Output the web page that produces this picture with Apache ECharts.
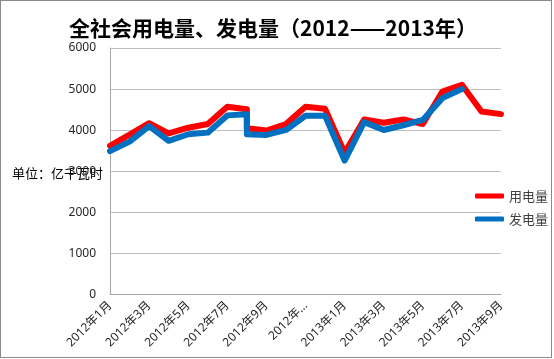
<!DOCTYPE html>
<html><head><meta charset="utf-8">
<script src="https://cdn.jsdelivr.net/npm/echarts@6/dist/echarts.min.js"></script>
<style>
html,body{margin:0;padding:0;background:#fff}
#c{width:554px;height:359px;position:absolute;left:0;top:0}
#frame{position:absolute;left:0;top:0;width:552px;height:358px;box-sizing:border-box;border:1.5px solid #8a8a8a;pointer-events:none}
</style></head><body><div id="c"></div><div id="frame"></div>
<script>
// Categories (months)
const months = ['2012年1月','2012年2月','2012年3月','2012年4月','2012年5月','2012年6月','2012年7月','2012年8月','2012年9月','2012年10月','2012年11月','2012年12月',
                '2013年1月','2013年2月','2013年3月','2013年4月','2013年5月','2013年6月','2013年7月','2013年8月','2013年9月'];
// 用电量 (亿千瓦时)
const useValues = [3620, 3890, 4170, 3920, 4060, 4150, 4570, 4510, 3990, 4150, 4570, 4520, 3450, 4260, 4180, 4260, 4150, 4940, 5105, 4455, 4390];
// 发电量 (亿千瓦时)
const genValues = [3490, 3720, 4100, 3740, 3900, 3940, 4360, 4390, 3885, 4005, 4350, 4350, 3260, 4195, 4005, 4120, 4250, 4780, 5000];
// second reading plotted at the same month (vertical drop in the source chart)
const dropMonth = '2012年8月';
const useDrop = 4045;
const genDrop = 3900;
// Tick labels as displayed (truncated one)
const shortLabels = {'2012年11月': '2012年…'};
const yTicks = [0, 1000, 2000, 3000, 4000, 5000, 6000];

function buildPairs(values, drop) {
  const out = [];
  values.forEach((v, i) => {
    out.push([months[i], v]);
    if (months[i] === dropMonth) out.push([months[i], drop]);
  });
  return out;
}

const chart = echarts.init(document.getElementById('c'), null, {renderer: 'canvas'});
const font = '"Noto Sans", "Noto Sans CJK SC", sans-serif';
chart.setOption({
  animation: false,
  backgroundColor: '#ffffff',
  title: {
    text: '全社会用电量、发电量（2012——2013年）',
    left: 273, textAlign: 'center', top: 18, padding: 0,
    textStyle: {fontSize: 21, fontWeight: 'bold', color: '#000', fontFamily: '"Noto Sans CJK SC", sans-serif'}
  },
  graphic: [{
    type: 'text', left: 12, top: 167,
    style: {text: '单位：亿千瓦时', fontSize: 13, fill: '#000', fontFamily: '"Noto Sans CJK SC", sans-serif'}
  }],
  legend: {
    orient: 'vertical', left: 470, top: 183, itemWidth: 29, itemHeight: 5, itemGap: 7,
    icon: 'roundRect',
    data: ['用电量', '发电量'],
    textStyle: {fontSize: 13, lineHeight: 16, color: '#404040', fontFamily: '"Noto Sans CJK SC", sans-serif'}
  },
  grid: {left: 110, right: 53, top: 48, bottom: 64.5, containLabel: false},
  xAxis: {
    type: 'category', data: months, boundaryGap: false,
    axisLine: {lineStyle: {color: '#a6a6a6'}},
    axisTick: {show: false},
    axisLabel: {
      interval: 1, rotate: 45, margin: 9, fontSize: 12, color: '#262626', fontFamily: font,
      formatter: v => shortLabels[v] || v
    }
  },
  yAxis: {
    type: 'value', min: yTicks[0], max: yTicks[yTicks.length - 1], interval: 1000,
    axisLine: {show: true, lineStyle: {color: '#a6a6a6'}},
    axisTick: {show: false},
    splitLine: {lineStyle: {color: '#bfbfbf'}},
    axisLabel: {margin: 14, fontSize: 12, color: '#262626', fontFamily: font, formatter: v => String(v)}
  },
  series: [
    {name: '用电量', type: 'line', data: buildPairs(useValues, useDrop), symbol: 'none', showSymbol: false,
     lineStyle: {width: 6, color: '#ff0000', cap: 'round', join: 'round'}, itemStyle: {color: '#ff0000'}},
    {name: '发电量', type: 'line', data: buildPairs(genValues, genDrop), symbol: 'none', showSymbol: false,
     lineStyle: {width: 6, color: '#0070c0', cap: 'round', join: 'round'}, itemStyle: {color: '#0070c0'}}
  ]
});
</script></body></html>
